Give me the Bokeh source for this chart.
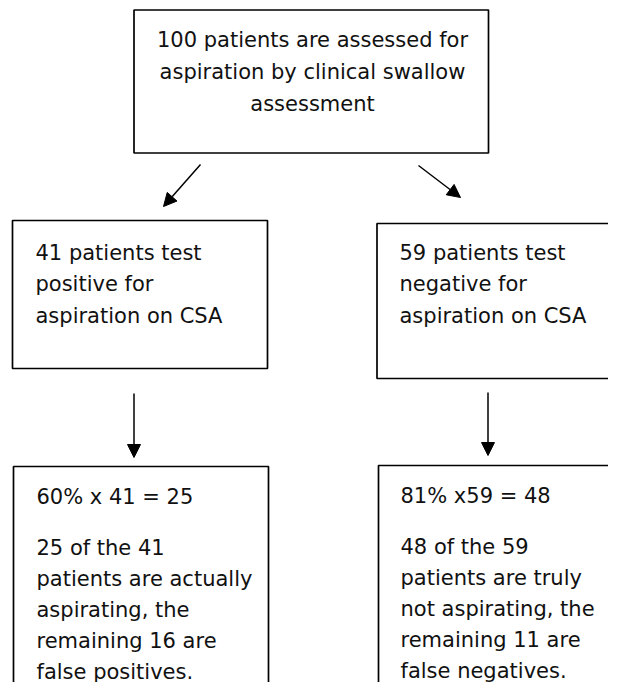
from bokeh.plotting import figure
from bokeh.models import Range1d, Arrow, NormalHead, ColumnDataSource
from bokeh.core.properties import value
from bokeh.embed import file_html
from bokeh.resources import INLINE

# ---- data ----
total = 100
test_pos = 41
test_neg = 59
ppv_pct = 60
npv_pct = 81
true_pos = 25
true_neg = 48
false_pos = test_pos - true_pos
false_neg = test_neg - true_neg

top_lines = [f"{total} patients are assessed for",
             "aspiration by clinical swallow",
             "assessment"]
pos_lines = [f"{test_pos} patients test", "positive for", "aspiration on CSA"]
neg_lines = [f"{test_neg} patients test", "negative for", "aspiration on CSA"]
pos_calc = f"{ppv_pct}% x {test_pos} = {true_pos}"
neg_calc = f"{npv_pct}% x{test_neg} = {true_neg}"
pos_lines2 = [f"{true_pos} of the {test_pos}", "patients are actually",
              "aspirating, the", f"remaining {false_pos} are", "false positives."]
neg_lines2 = [f"{true_neg} of the {test_neg}", "patients are truly",
              "not aspirating, the", f"remaining {false_neg} are", "false negatives."]

# ---- layout (pixel coordinates of the picture) ----
W, H = 608, 682
FONT = value("DejaVu Sans")
FS = "21px"
LH = 31.8
LH2 = 31.0

p = figure(width=W, height=H, output_backend="svg", toolbar_location=None,
           x_range=Range1d(0, W), y_range=Range1d(H, 0),
           min_border=0)
p.axis.visible = False
p.grid.visible = False
p.outline_line_color = None
p.background_fill_color = "white"
p.border_fill_color = "white"

boxes = dict(
    left=[133.5, 12, 376.5, 13, 378],
    right=[488, 267, 640, 268, 640],
    top=[9.5, 220, 223, 466, 465],
    bottom=[152.5, 368, 378, 720, 720],
)
p.quad(source=ColumnDataSource(boxes), left="left", right="right", top="top",
       bottom="bottom", fill_color="white", line_color="black", line_width=1.7)

arrows = [((200, 164), (163, 206)), ((418, 165), (460, 197)),
          ((133.5, 393), (133.5, 457)), ((487.5, 392), (487.5, 455))]
for (x0, y0), (x1, y1) in arrows:
    p.add_layout(Arrow(end=NormalHead(size=13, fill_color="black", line_color="black", line_width=1),
                       x_start=x0, y_start=y0, x_end=x1, y_end=y1,
                       line_width=1.5, line_color="black"))

def draw_lines(lines, x, y0, align="left", lh=LH):
    ys = [y0 + i * lh for i in range(len(lines))]
    p.text(x=[x] * len(lines), y=ys, text=lines, text_font=FONT,
           text_font_size=FS, text_align=align, text_baseline="alphabetic",
           text_color="#111111")

draw_lines(top_lines, 312, 39.5, align="center")
draw_lines(pos_lines, 35, 252)
draw_lines(neg_lines, 399, 252)
draw_lines([pos_calc], 36, 496.5)
draw_lines([neg_calc], 400, 495.5)
draw_lines(pos_lines2, 36, 547, lh=LH2)
draw_lines(neg_lines2, 400, 546, lh=LH2)

open("out.html", "w").write(file_html(p, INLINE))
